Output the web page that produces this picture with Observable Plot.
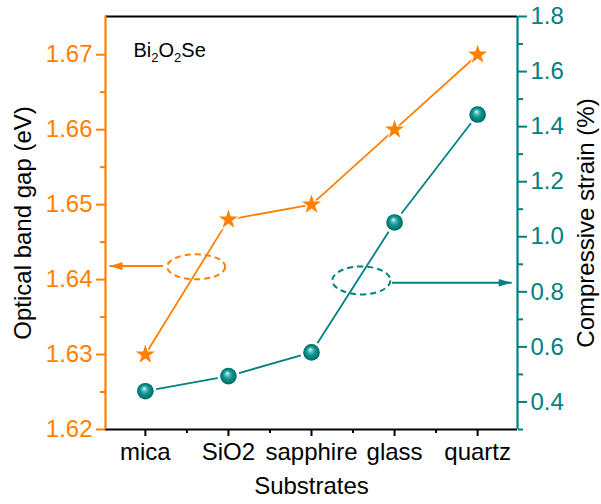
<!DOCTYPE html>
<html><head><meta charset="utf-8">
<script src="https://cdn.jsdelivr.net/npm/d3@7"></script>
<script src="https://cdn.jsdelivr.net/npm/@observablehq/plot@0.6"></script>
<style>body{margin:0;background:#fff}</style>
</head><body><div id="chart"></div>
<script>
const substrates = ["mica", "SiO2", "sapphire", "glass", "quartz"];
const bandGap = [1.630, 1.648, 1.650, 1.660, 1.670];
const strain = [0.439, 0.494, 0.580, 1.052, 1.444];
const leftTicks = [1.62, 1.63, 1.64, 1.65, 1.66, 1.67];
const leftMinor = [1.625, 1.635, 1.645, 1.655, 1.665];
const rightTicks = [0.4, 0.6, 0.8, 1.0, 1.2, 1.4, 1.6, 1.8];
const rightMinor = [0.3, 0.5, 0.7, 0.9, 1.1, 1.3, 1.5, 1.7];
const xTicks = [1, 2, 3, 4, 5];
const xMinor = [1.5, 2.5, 3.5, 4.5];
const leftDomain = [1.62, 1.6751];
const rightDomain = [0.3, 1.8];
const xDomain = [0.52, 5.48];
// annotation anchors (data units)
const gapEllipse = [{x: 1.612, y: 1.6417}];
const gapArrow = [{x1: 1.212, x2: 0.568, y: 1.6418}];
const strainEllipse = [{x: 3.60, y: 0.8415}];
const strainArrow = [{x1: 3.97, x2: 5.41, y: 0.833}];

const ORANGE = "#FF8000", TEAL = "#008080";
const toLeft = v => leftDomain[0] + (v - rightDomain[0]) / (rightDomain[1] - rightDomain[0]) * (leftDomain[1] - leftDomain[0]);
const fromLeft = v => rightDomain[0] + (v - leftDomain[0]) / (leftDomain[1] - leftDomain[0]) * (rightDomain[1] - rightDomain[0]);

const rows = substrates.map((s, i) => ({x: i + 1, gap: bandGap[i], strain: toLeft(strain[i])}));

const makeEllipse = (rx, ry) => ({draw(ctx) {
  const k = 0.5523;
  ctx.moveTo(rx, 0);
  ctx.bezierCurveTo(rx, ry * k, rx * k, ry, 0, ry);
  ctx.bezierCurveTo(-rx * k, ry, -rx, ry * k, -rx, 0);
  ctx.bezierCurveTo(-rx, -ry * k, -rx * k, -ry, 0, -ry);
  ctx.bezierCurveTo(rx * k, -ry, rx, -ry * k, rx, 0);
  ctx.closePath();
}});
const headRight = {draw(ctx) { ctx.moveTo(0, 0); ctx.lineTo(-13, -3.8); ctx.lineTo(-13, 3.8); ctx.closePath(); }};
const headLeft = {draw(ctx) { ctx.moveTo(0, 0); ctx.lineTo(13, -3.8); ctx.lineTo(13, 3.8); ctx.closePath(); }};

const fmt2 = d3.format(".2f");
const plot = Plot.plot({
  width: 601, height: 504,
  marginLeft: 105, marginRight: 84, marginTop: 16, marginBottom: 75,
  style: {fontFamily: "'Liberation Sans', Arial, sans-serif", background: "white", color: "black", overflow: "visible"},
  x: {domain: xDomain},
  y: {domain: leftDomain},
  marks: [
    // axes
    Plot.axisY(leftTicks, {anchor: "left", tickSize: 9, tickPadding: 4, stroke: ORANGE, fill: ORANGE, strokeWidth: 2, fontSize: 24, tickFormat: fmt2, label: null}),
    Plot.axisY(leftMinor, {anchor: "left", tickSize: 5, stroke: ORANGE, strokeWidth: 2, tickFormat: () => "", label: null}),
    Plot.axisY(rightTicks.map(toLeft), {anchor: "right", tickSize: 9, tickPadding: 4, stroke: TEAL, fill: TEAL, strokeWidth: 2, fontSize: 24, tickFormat: d => fromLeft(d).toFixed(1), label: null}),
    Plot.axisY(rightMinor.map(toLeft), {anchor: "right", tickSize: 5, stroke: TEAL, strokeWidth: 2, tickFormat: () => "", label: null}),
    Plot.axisX(xTicks, {anchor: "bottom", tickSize: 7, tickPadding: 6, stroke: "black", fill: "black", strokeWidth: 2, fontSize: 24, tickFormat: d => substrates[d - 1], label: null}),
    Plot.axisX(xMinor, {anchor: "bottom", tickSize: 4, stroke: "black", strokeWidth: 2, tickFormat: () => "", label: null}),
    Plot.ruleY([leftDomain[0]], {stroke: "black", strokeWidth: 2.2}),
    Plot.ruleY([leftDomain[1]], {stroke: "black", strokeWidth: 2.2}),
    Plot.ruleX([xDomain[0]], {stroke: ORANGE, strokeWidth: 2.2}),
    Plot.ruleX([xDomain[1]], {stroke: TEAL, strokeWidth: 2.2}),
    // titles
    Plot.text(["Optical band gap (eV)"], {frameAnchor: "left", dx: -82, rotate: -90, textAnchor: "middle", fontSize: 24, fill: "black"}),
    Plot.text(["Compressive strain (%)"], {frameAnchor: "right", dx: 69, rotate: -90, textAnchor: "middle", fontSize: 24, fill: "black"}),
    Plot.text(["Substrates"], {frameAnchor: "bottom", dy: 64, fontSize: 24, fill: "black"}),
    Plot.text(["Bi2O2Se"], {frameAnchor: "top-left", dx: 28, dy: 40, textAnchor: "start", lineAnchor: "bottom", fontSize: 20, fill: "black"}),
    // series lines
    Plot.line(rows, {x: "x", y: "gap", stroke: ORANGE, strokeWidth: 1.8}),
    Plot.line(rows, {x: "x", y: "strain", stroke: TEAL, strokeWidth: 1.8}),
    // halos
    Plot.dot(rows, {x: "x", y: "gap", symbol: "star", r: 8.2, fill: "white"}),
    Plot.dot(rows, {x: "x", y: "strain", r: 11, fill: "white"}),
    // markers
    Plot.dot(rows, {x: "x", y: "gap", symbol: "star", r: 6, fill: ORANGE}),
    Plot.dot(rows, {x: "x", y: "strain", r: 8.3, fill: "url(#ball)"}),
    // annotations
    Plot.dot(gapEllipse, {x: "x", y: "y", symbol: makeEllipse(29, 12.5), stroke: ORANGE, fill: "none", strokeWidth: 2, strokeDasharray: "6,4"}),
    Plot.link(gapArrow, {x1: "x1", x2: "x2", y1: "y", y2: "y", stroke: ORANGE, strokeWidth: 2}),
    Plot.dot(gapArrow, {x: "x2", y: "y", symbol: headLeft, fill: ORANGE, stroke: "none"}),
    Plot.dot(strainEllipse, {x: "x", y: d => toLeft(d.y), symbol: makeEllipse(29, 14), stroke: TEAL, fill: "none", strokeWidth: 2, strokeDasharray: "6,4"}),
    Plot.link(strainArrow, {x1: "x1", x2: "x2", y1: d => toLeft(d.y), y2: d => toLeft(d.y), stroke: TEAL, strokeWidth: 2}),
    Plot.dot(strainArrow, {x: "x2", y: d => toLeft(d.y), symbol: headRight, fill: TEAL, stroke: "none"})
  ]
});

// gradient for the ball markers
const svg = d3.select(plot);
const grad = svg.insert("defs", ":first-child").append("radialGradient")
  .attr("id", "ball").attr("cx", "0.5").attr("cy", "0.5").attr("r", "0.5").attr("fx", "0.42").attr("fy", "0.32");
[["0", "#e6fbfa"], ["0.25", "#5cc3bf"], ["0.55", "#0d928e"], ["0.85", "#007a77"], ["1", "#00605d"]]
  .forEach(([o, c]) => grad.append("stop").attr("offset", o).attr("stop-color", c));

// subscripts in Bi2O2Se
svg.selectAll("text").filter(function() { return this.textContent === "Bi2O2Se"; }).each(function() {
  const t = d3.select(this);
  t.text(null);
  t.append("tspan").text("Bi");
  t.append("tspan").attr("font-size", 13).attr("dy", 5).text("2");
  t.append("tspan").attr("dy", -5).text("O");
  t.append("tspan").attr("font-size", 13).attr("dy", 5).text("2");
  t.append("tspan").attr("dy", -5).text("Se");
});

document.getElementById("chart").appendChild(plot);
</script>
</body></html>
